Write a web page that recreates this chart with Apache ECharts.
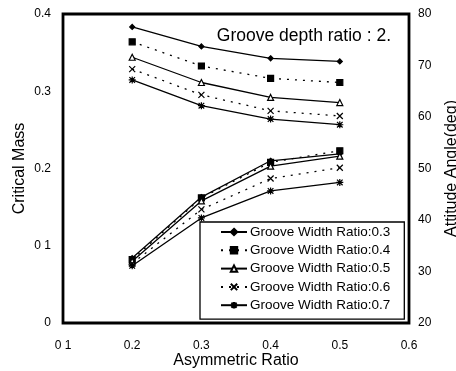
<!DOCTYPE html>
<html>
<head>
<meta charset="utf-8">
<script src="https://cdn.jsdelivr.net/npm/echarts@6/dist/echarts.min.js"></script>
<style>
  html, body { margin: 0; padding: 0; background: #fff; }
  #chart { width: 456px; height: 371px; }
</style>
</head>
<body>
<div id="chart"></div>
<script>
// x values
var asymRatio = [0.2, 0.3, 0.4, 0.5];

// critical mass (left axis)
var mass03 = [0.084, 0.163, 0.210, 0.219];
var mass04 = [0.082, 0.162, 0.208, 0.223];
var mass05 = [0.080, 0.158, 0.203, 0.216];
var mass06 = [0.077, 0.147, 0.187, 0.201];
var mass07 = [0.074, 0.136, 0.171, 0.182];

// attitude angle, deg (right axis)
var angle03 = [77.5, 73.7, 71.4, 70.8];
var angle04 = [74.6, 69.9, 67.5, 66.7];
var angle05 = [71.6, 66.7, 63.8, 62.8];
var angle06 = [69.3, 64.3, 61.2, 60.2];
var angle07 = [67.2, 62.2, 59.6, 58.5];

var xTicks = ['0 1', '0.2', '0.3', '0.4', '0.5', '0.6'];
var massTicks = ['0', '0 1', '0.2', '0.3', '0.4'];

var FONT = 'Liberation Sans, Arial, sans-serif';

function pairs(ys) {
  return asymRatio.map(function (x, i) { return [x, ys[i]]; });
}

// marker styles per groove width ratio
var styles = {
  '0.3': { symbol: 'diamond', size: 5, fill: '#000', dash: 'solid' },
  '0.4': { symbol: 'rect', size: 6, fill: '#000', dash: [2, 6] },
  '0.5': { symbol: 'triangle', size: 6, fill: '#fff', dash: 'solid' },
  '0.6': { symbol: 'path://M0,0L10,10M10,0L0,10', size: 6, fill: '#000', dash: [2, 6] },
  '0.7': { symbol: 'path://M0,5L10,5M5,0L5,10M1,1L9,9M9,1L1,9', size: 7, fill: '#000', dash: 'solid' }
};

function makeSeries(key, data, axisIdx) {
  var s = styles[key];
  return {
    name: 'Groove Width Ratio:' + key,
    type: 'line',
    yAxisIndex: axisIdx,
    data: pairs(data),
    symbol: s.symbol,
    symbolSize: s.size,
    showSymbol: true,
    lineStyle: { color: '#000', width: 1.3, type: s.dash },
    itemStyle: { color: s.fill, borderColor: '#000', borderWidth: 1.2 }
  };
}

var chart = echarts.init(document.getElementById('chart'));
chart.setOption({
  animation: false,
  backgroundColor: '#fff',
  title: {
    text: 'Groove depth ratio : 2.',
    right: 60,
    top: 22,
    textStyle: { fontFamily: FONT, fontSize: 17.5, fontWeight: 'normal', color: '#000' }
  },
  grid: {
    left: 63, right: 47, top: 14, bottom: 48,
    outerBoundsMode: 'none',
    show: true, borderColor: '#000', borderWidth: 2.8, backgroundColor: 'transparent'
  },
  legend: {
    orient: 'vertical',
    left: 200,
    top: 222,
    padding: [3, 14, 7, 20],
    itemGap: 4.3,
    itemWidth: 26,
    itemHeight: 8,
    borderColor: '#000',
    borderWidth: 1.3,
    backgroundColor: '#fff',
    textStyle: { fontFamily: FONT, fontSize: 13.5, lineHeight: 14, color: '#000', padding: [0, 0, 0, -2] },
    data: ['Groove Width Ratio:0.3', 'Groove Width Ratio:0.4', 'Groove Width Ratio:0.5',
           'Groove Width Ratio:0.6', 'Groove Width Ratio:0.7']
  },
  xAxis: {
    type: 'value',
    min: 0.1, max: 0.6, interval: 0.1,
    name: 'Asymmetric Ratio',
    nameLocation: 'middle',
    nameGap: 30,
    nameMoveOverlap: false,
    nameTextStyle: { fontFamily: FONT, fontSize: 16, color: '#000' },
    axisLine: { show: false },
    axisTick: { show: false },
    splitLine: { show: false },
    axisLabel: {
      margin: 17,
      fontFamily: FONT, fontSize: 12, color: '#000',
      formatter: function (v) { return xTicks[Math.round((v - 0.1) * 10)]; }
    }
  },
  yAxis: [{
    type: 'value',
    min: 0, max: 0.4, interval: 0.1,
    name: 'Critical Mass',
    nameLocation: 'middle',
    nameGap: 35,
    nameMoveOverlap: false,
    nameTextStyle: { fontFamily: FONT, fontSize: 16, color: '#000' },
    axisLine: { show: false },
    axisTick: { show: false },
    splitLine: { show: false },
    axisLabel: {
      margin: 12,
      fontFamily: FONT, fontSize: 12, color: '#000',
      formatter: function (v) { return massTicks[Math.round(v * 10)]; }
    }
  }, {
    type: 'value',
    position: 'right',
    min: 20, max: 80, interval: 10,
    name: 'Attitude Angle(deg)',
    nameLocation: 'middle',
    nameGap: 35,
    nameMoveOverlap: false,
    nameTextStyle: { fontFamily: FONT, fontSize: 16, color: '#000' },
    axisLine: { show: false },
    axisTick: { show: false },
    splitLine: { show: false },
    axisLabel: { margin: 9, fontFamily: FONT, fontSize: 12, color: '#000' }
  }],
  series: [
    makeSeries('0.3', angle03, 1),
    makeSeries('0.4', angle04, 1),
    makeSeries('0.5', angle05, 1),
    makeSeries('0.6', angle06, 1),
    makeSeries('0.7', angle07, 1),
    makeSeries('0.3', mass03, 0),
    makeSeries('0.4', mass04, 0),
    makeSeries('0.5', mass05, 0),
    makeSeries('0.6', mass06, 0),
    makeSeries('0.7', mass07, 0)
  ]
});
</script>
</body>
</html>
